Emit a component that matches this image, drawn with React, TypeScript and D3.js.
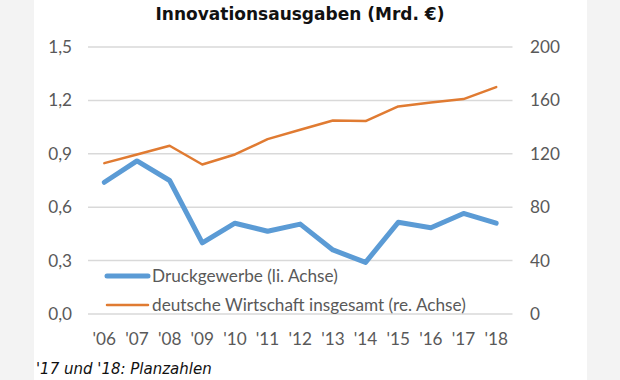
import React from "react";
import * as d3 from "d3";

const years = ["'06", "'07", "'08", "'09", "'10", "'11", "'12", "'13", "'14", "'15", "'16", "'17", "'18"];
const druckgewerbe = [0.74, 0.86, 0.75, 0.4, 0.51, 0.465, 0.505, 0.36, 0.29, 0.515, 0.485, 0.565, 0.51];
const wirtschaft = [113, 119.5, 126, 112, 119.5, 131, 138, 145, 144.5, 155.5, 158.5, 161, 170];
const leftTicks = [0, 0.3, 0.6, 0.9, 1.2, 1.5];
const rightTicks = [0, 40, 80, 120, 160, 200];
const legendLabels = ["Druckgewerbe (li. Achse)", "deutsche Wirtschaft insgesamt (re. Achse)"];
const title = "Innovationsausgaben (Mrd. €)";
const footnote = "'17 und '18: Planzahlen";

const W = 620;
const H = 380;
const plotLeft = 88;
const plotRight = 512.5;
const plotTop = 47;
const plotBottom = 314;

const BLUE = "#5b9bd5";
const ORANGE = "#e07b32";
const GRID = "#d9d9d9";
const TEXT = "#595959";
const LABEL_FONT = "Lato, 'Open Sans', sans-serif";
const LABEL_SIZE = 17.2;

export default function App() {
  const x = d3.scalePoint<string>().domain(years).range([plotLeft, plotRight]).padding(0.5);
  const yL = d3.scaleLinear().domain([0, 1.5]).range([plotBottom, plotTop]);
  const yR = d3.scaleLinear().domain([0, 200]).range([plotBottom, plotTop]);
  const fmtL = (v: number) => d3.format(".1f")(v).replace(".", ",");

  const lineL = d3
    .line<number>()
    .x((_, i) => x(years[i]) as number)
    .y((d) => yL(d));
  const lineR = d3
    .line<number>()
    .x((_, i) => x(years[i]) as number)
    .y((d) => yR(d));

  return (
    <svg
      width={W}
      height={H}
      style={{ position: "absolute", left: 0, top: 0, display: "block" }}
    >
      <rect x={0} y={0} width={W} height={H} fill="#f3f3f3" />
      <rect x={34} y={0} width={553} height={H} fill="#ffffff" />

      <text
        x={300}
        y={20}
        textAnchor="middle"
        fontFamily="'DejaVu Sans', Verdana, sans-serif"
        fontWeight="bold"
        fontSize={17}
        fill="#111"
      >
        {title}
      </text>

      {leftTicks.map((t) => (
        <line
          key={"g" + t}
          x1={plotLeft}
          x2={plotRight}
          y1={yL(t)}
          y2={yL(t)}
          stroke={GRID}
          strokeWidth={1.5}
        />
      ))}

      {leftTicks.map((t) => (
        <text
          key={"l" + t}
          x={72}
          y={yL(t)}
          dy="0.35em"
          textAnchor="end"
          fontFamily={LABEL_FONT}
          fontSize={LABEL_SIZE}
          fill={TEXT}
        >
          {fmtL(t)}
        </text>
      ))}

      {rightTicks.map((t) => (
        <text
          key={"r" + t}
          x={530}
          y={yR(t)}
          dy="0.35em"
          textAnchor="start"
          fontFamily={LABEL_FONT}
          fontSize={LABEL_SIZE}
          fill={TEXT}
        >
          {t}
        </text>
      ))}

      {years.map((yr) => (
        <text
          key={yr}
          x={x(yr) as number}
          y={345}
          textAnchor="middle"
          fontFamily={LABEL_FONT}
          fontSize={LABEL_SIZE}
          fill={TEXT}
        >
          {yr}
        </text>
      ))}

      <path
        d={lineR(wirtschaft) || ""}
        fill="none"
        stroke={ORANGE}
        strokeWidth={2.5}
        strokeLinejoin="round"
        strokeLinecap="round"
      />
      <path
        d={lineL(druckgewerbe) || ""}
        fill="none"
        stroke={BLUE}
        strokeWidth={5}
        strokeLinejoin="round"
        strokeLinecap="round"
      />

      <line x1={107} x2={148} y1={276} y2={276} stroke={BLUE} strokeWidth={5} strokeLinecap="round" />
      <text x={152} y={282} fontFamily={LABEL_FONT} fontSize={LABEL_SIZE} fill={TEXT}>
        {legendLabels[0]}
      </text>
      <line x1={107} x2={148} y1={305} y2={305} stroke={ORANGE} strokeWidth={2.5} strokeLinecap="round" />
      <text x={152} y={311} fontFamily={LABEL_FONT} fontSize={LABEL_SIZE} fill={TEXT}>
        {legendLabels[1]}
      </text>

      <text
        x={36}
        y={374}
        fontFamily="'DejaVu Sans', Verdana, sans-serif"
        fontStyle="italic"
        fontSize={15}
        fill="#111"
      >
        {footnote}
      </text>
    </svg>
  );
}
